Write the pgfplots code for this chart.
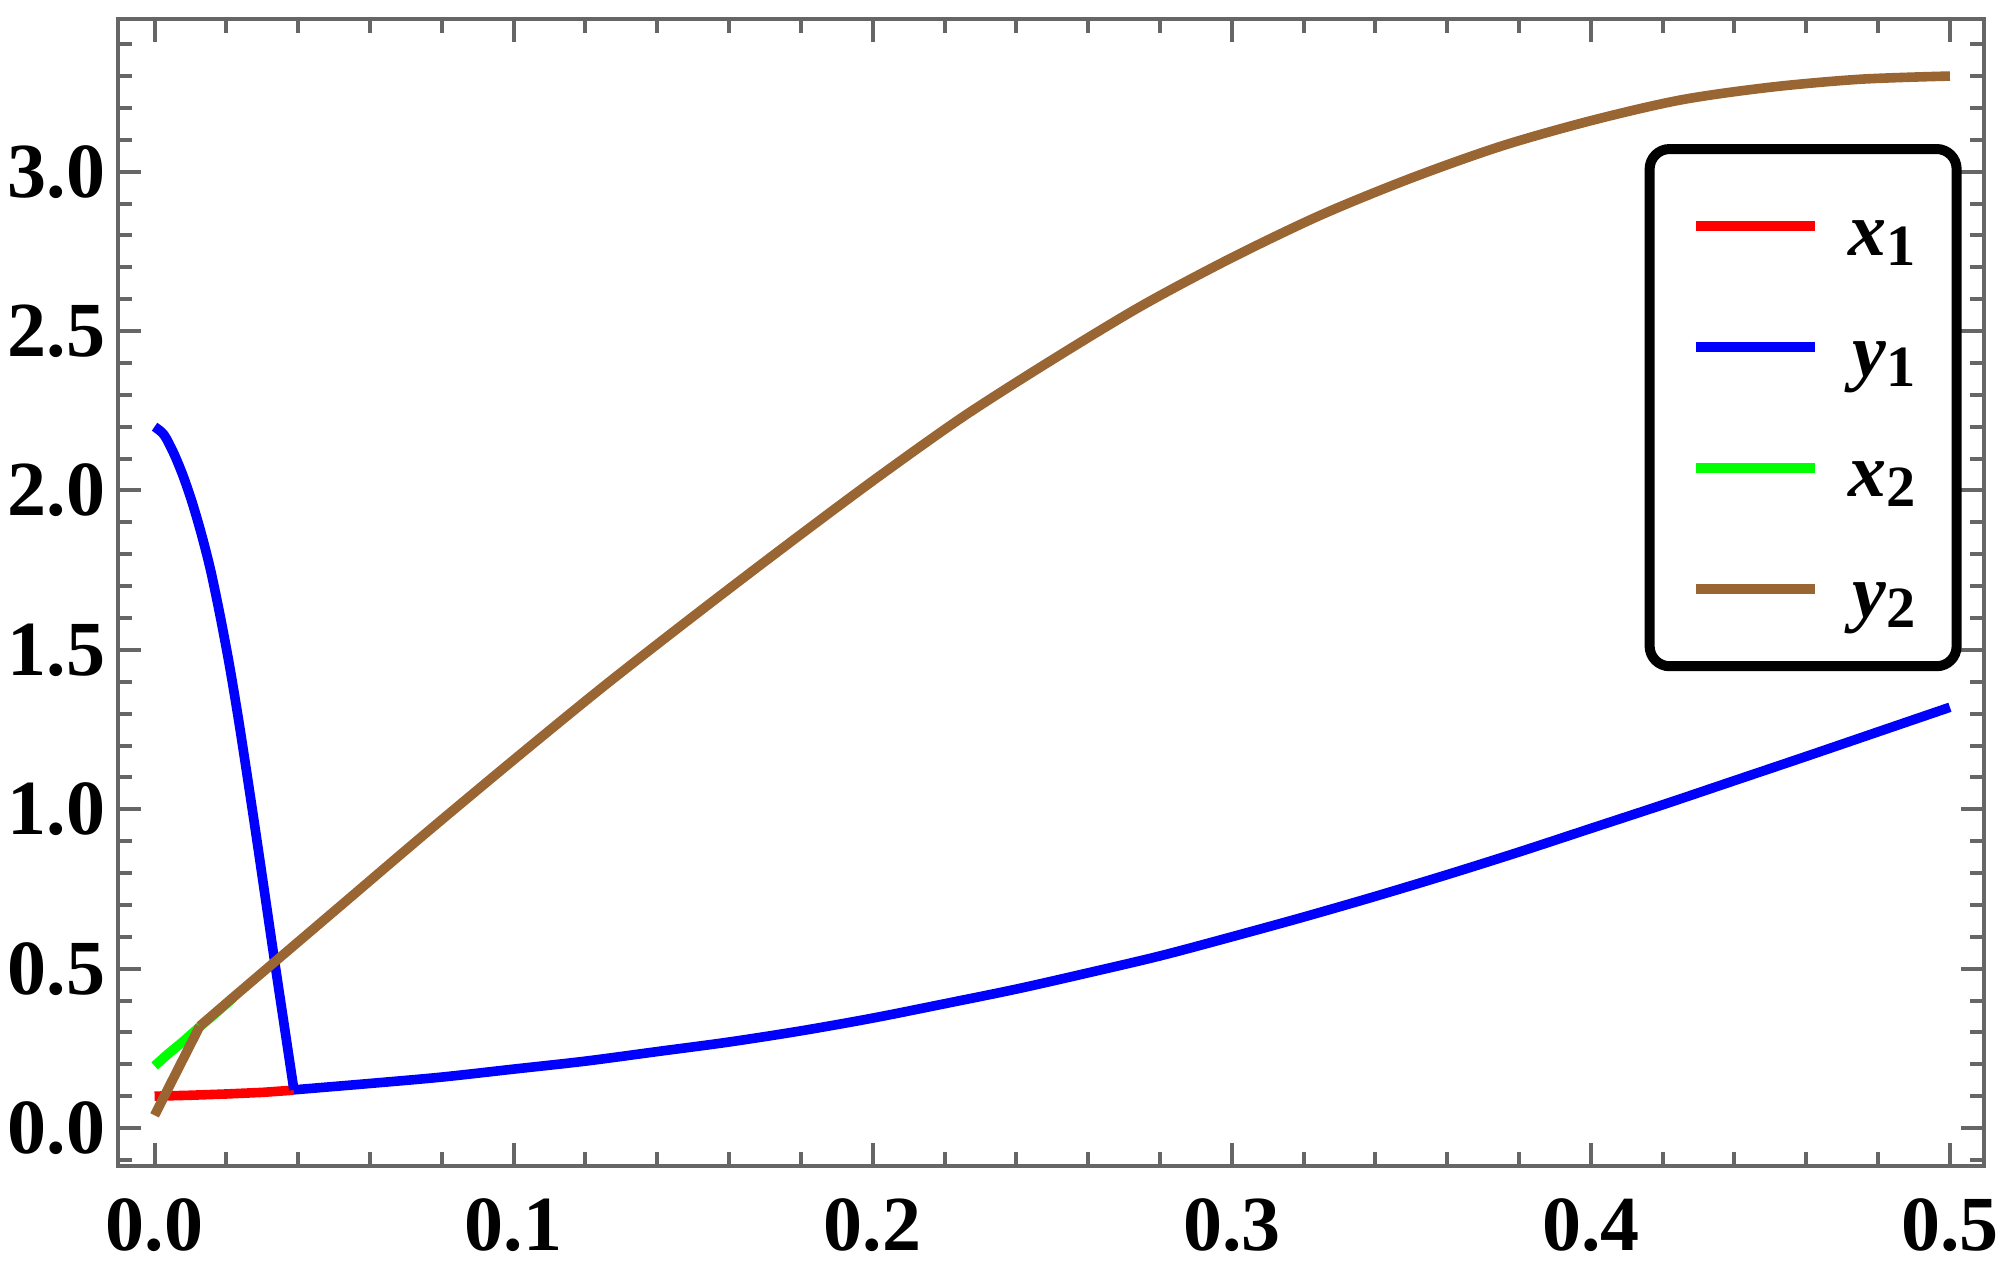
\documentclass[border=0pt]{standalone}
\usepackage{fontspec}
\setmainfont{Liberation Serif}
\usepackage{pgfplots}
\pgfplotsset{compat=1.18}

\definecolor{framegray}{HTML}{666666}
\definecolor{mbrown}{rgb}{0.6,0.4,0.2}

% bold italic letter with a large bold index, as in the legend
\newcommand{\lab}[2]{{\fontsize{19}{20}\selectfont\bfseries\itshape #1}\raisebox{-2.5pt}{\fontsize{14.6}{15}\selectfont\bfseries #2}}

\begin{document}
\begin{tikzpicture}
\begin{axis}[
    name=ax,
    scale only axis,
    width=466.6pt, height=286.75pt,
    xmin=-0.0103, xmax=0.5095,
    ymin=-0.119, ymax=3.479,
    xtick={0,0.1,0.2,0.3,0.4,0.5},
    ytick={0,0.5,1,1.5,2,2.5,3},
    minor xtick={0,0.02,...,0.5},
    minor ytick={-0.1,0,0.1,0.2,0.3,0.4,0.5,0.6,0.7,0.8,0.9,1.0,1.1,1.2,1.3,1.4,1.5,1.6,1.7,1.8,1.9,2.0,2.1,2.2,2.3,2.4,2.5,2.6,2.7,2.8,2.9,3.0,3.1,3.2,3.3,3.4},
    tick align=inside,
    major tick length=5.75pt,
    minor tick length=3.5pt,
    every tick/.style={framegray, line width=1pt},
    axis line style={framegray, line width=1pt},
    /pgf/number format/fixed,
    /pgf/number format/fixed zerofill,
    /pgf/number format/precision=1,
    /pgf/number format/assume math mode=true,
    ticklabel style={font=\bfseries\fontsize{19.5}{21}\selectfont},
    xticklabel style={yshift=-4.5pt},
    yticklabel style={xshift=0.5pt},
    legend cell align=right,
    legend style={
        at={(rel axis cs:0.988,0.891)}, anchor=north east,
        draw=black, line width=2.5pt, rounded corners=5pt,
        inner xsep=10.25pt, inner ysep=5.25pt,
        row sep=2pt, column sep=0pt,
        nodes={inner sep=0pt, text height=21.3pt, text depth=6.9pt},
    },
    legend image code/.code={
        \draw[#1, sharp corners, line width=2.5pt] (0pt,0pt) -- (29.75pt,0pt);
        \path (37pt,0pt);
    },
    every axis plot/.append style={line width=2.4pt, line join=round},
]

% x1
\addplot[color=red] coordinates {
    (0,0.100) (0.01,0.103) (0.02,0.107) (0.03,0.112) (0.0388,0.119)
};
\addlegendentry{\lab{x}{1}}

% y1, steep part then slow rise
\addplot[color=blue, smooth] coordinates {
    (0,2.20) (0.0026,2.175) (0.0052,2.12) (0.0078,2.05) (0.0104,1.965)
    (0.013,1.865) (0.0156,1.75) (0.0182,1.61) (0.0208,1.455) (0.0234,1.28)
    (0.026,1.09) (0.0286,0.895) (0.0312,0.695) (0.0338,0.495) (0.0364,0.30)
    (0.0388,0.12)
};
\addlegendentry{\lab{y}{1}}
\addplot[color=blue, smooth, forget plot] coordinates {
    (0.0388,0.12) (0.06,0.14) (0.08,0.16) (0.10,0.185) (0.12,0.21) (0.14,0.24)
    (0.16,0.27) (0.18,0.305) (0.20,0.345) (0.22,0.39) (0.24,0.436)
    (0.26,0.487) (0.28,0.54) (0.30,0.60) (0.32,0.662) (0.34,0.727)
    (0.36,0.795) (0.38,0.866) (0.40,0.94) (0.42,1.014) (0.44,1.09)
    (0.46,1.166) (0.48,1.243) (0.50,1.32)
};

% x2
\addplot[color=green] coordinates {
    (0,0.195) (0.004,0.235) (0.008,0.272) (0.0126,0.318) (0.018,0.37) (0.022,0.41)
};
\addlegendentry{\lab{x}{2}}

% y2, short first leg then the long arc
\addplot[color=mbrown] coordinates {
    (0,0.04) (0.0126,0.32)
};
\addlegendentry{\lab{y}{2}}
\addplot[color=mbrown, smooth, forget plot] coordinates {
    (0.0126,0.32) (0.025,0.44) (0.05,0.68) (0.075,0.92)
    (0.1,1.155) (0.125,1.385) (0.15,1.605) (0.175,1.82) (0.2,2.03)
    (0.225,2.23) (0.25,2.41) (0.275,2.58) (0.3,2.73) (0.325,2.865)
    (0.35,2.98) (0.375,3.08) (0.4,3.16) (0.425,3.225) (0.45,3.265)
    (0.475,3.29) (0.5,3.30)
};

\end{axis}
\pgfresetboundingbox
\path ([xshift=-29.4pt,yshift=-24.25pt]ax.south west)
    rectangle ([xshift=4.75pt,yshift=4.75pt]ax.north east);
\end{tikzpicture}
\end{document}
